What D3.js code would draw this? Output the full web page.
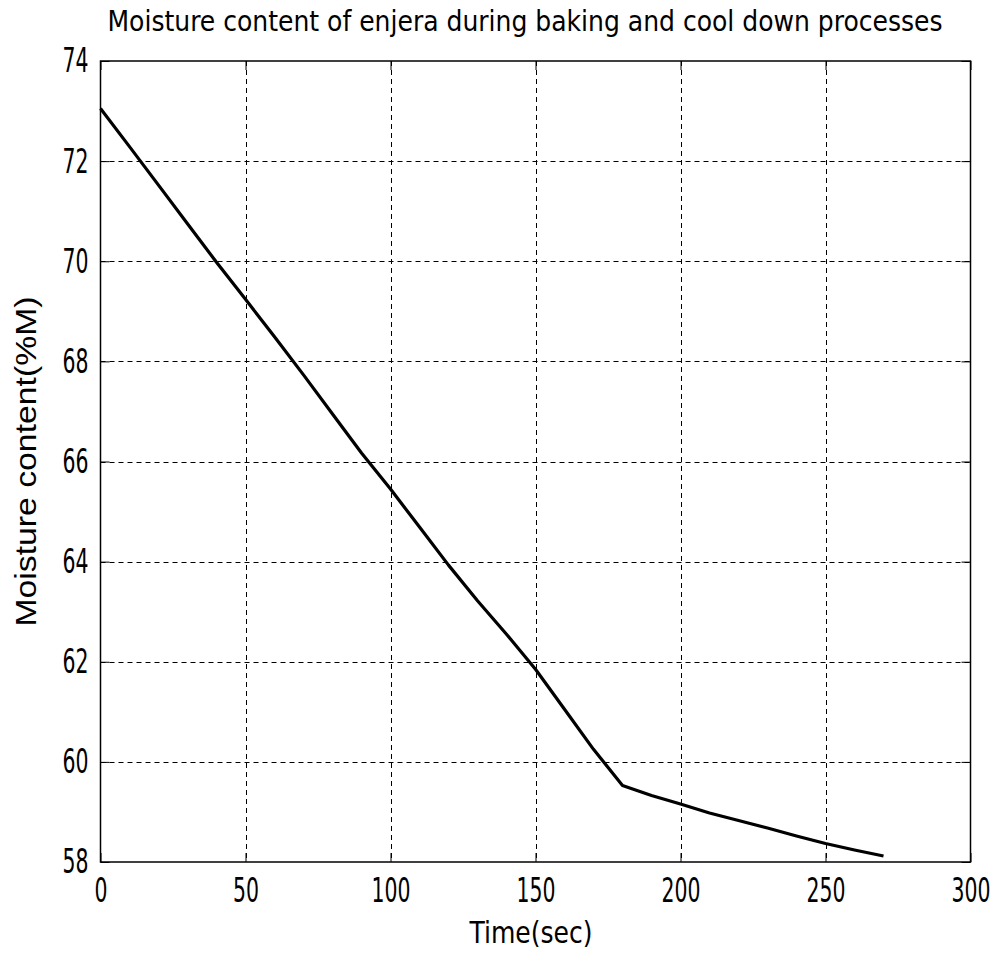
<!DOCTYPE html>
<html>
<head>
<meta charset="utf-8">
<script src="https://cdn.jsdelivr.net/npm/d3@7"></script>
<style>
  body { margin: 0; background: #fff; }
  svg { display: block; }
  .tick text { font-family: "DejaVu Sans Condensed", sans-serif; font-size: 34px; fill: #000; }
</style>
</head>
<body>
<svg id="chart" width="997" height="955"></svg>
<script>
// time (sec) and moisture content (%M)
const timeSec = [0, 10, 20, 30, 40, 50, 60, 70, 80, 90, 100, 110, 120, 130, 140, 150, 160, 170, 180,
    190, 200, 210, 220, 230, 240, 250, 260, 270];
const moisture = [73.05, 72.29, 71.52, 70.75, 69.98, 69.24, 68.49, 67.73, 66.95, 66.17, 65.45, 64.69,
    63.93, 63.22, 62.55, 61.85, 61.05, 60.25, 59.53,
    59.33, 59.16, 58.98, 58.83, 58.68, 58.52, 58.37, 58.24, 58.12];
const xTicks = [0, 50, 100, 150, 200, 250, 300];
const yTicks = [58, 60, 62, 64, 66, 68, 70, 72, 74];

const svg = d3.select('#chart');
const plotLeft = 100.5, plotRight = 970.5, plotTop = 61, plotBottom = 862;

const xScale = d3.scaleLinear().domain([0, 300]).range([plotLeft, plotRight]);
const yScale = d3.scaleLinear().domain([58, 74]).range([plotBottom, plotTop]);

// dashed grid
svg.append('g')
    .selectAll('line')
    .data(xTicks.slice(1, -1))
    .enter().append('line')
    .attr('x1', d => Math.round(xScale(d)) + 0.5).attr('x2', d => Math.round(xScale(d)) + 0.5)
    .attr('y1', plotTop).attr('y2', plotBottom)
    .attr('stroke', '#000').attr('stroke-dasharray', '5,4');

svg.append('g')
    .selectAll('line')
    .data(yTicks.slice(1, -1))
    .enter().append('line')
    .attr('y1', d => Math.round(yScale(d)) + 0.5).attr('y2', d => Math.round(yScale(d)) + 0.5)
    .attr('x1', plotLeft).attr('x2', plotRight)
    .attr('stroke', '#000').attr('stroke-dasharray', '5,4');

// narrow digits like the original
const squeeze = g => g.selectAll('.tick text')
    .attr('textLength', d => String(d).length * 13)
    .attr('lengthAdjust', 'spacingAndGlyphs');

// axes with inward ticks
const xAxis = d3.axisBottom(xScale).tickValues(xTicks).tickSizeInner(-9).tickSizeOuter(0).tickPadding(16);
const yAxis = d3.axisLeft(yScale).tickValues(yTicks).tickSizeInner(-9).tickSizeOuter(0).tickPadding(12);

svg.append('g').attr('transform', `translate(0,${plotBottom})`).call(xAxis)
    .call(g => g.select('.domain').remove()).call(squeeze);
svg.append('g').attr('transform', `translate(${plotLeft},0)`).call(yAxis)
    .call(g => g.select('.domain').remove()).call(squeeze);
svg.append('g').attr('transform', `translate(0,${plotTop})`)
    .call(d3.axisTop(xScale).tickValues(xTicks).tickSizeInner(-9).tickSizeOuter(0).tickFormat(''))
    .call(g => g.select('.domain').remove());
svg.append('g').attr('transform', `translate(${plotRight},0)`)
    .call(d3.axisRight(yScale).tickValues(yTicks).tickSizeInner(-9).tickSizeOuter(0).tickFormat(''))
    .call(g => g.select('.domain').remove());

svg.selectAll('.tick line').attr('stroke', '#000');

// box
svg.append('rect')
    .attr('x', plotLeft).attr('y', plotTop)
    .attr('width', plotRight - plotLeft).attr('height', plotBottom - plotTop)
    .attr('fill', 'none').attr('stroke', '#000').attr('stroke-width', 1.5);

// data line
const line = d3.line()
    .x((d, i) => xScale(timeSec[i]))
    .y(d => yScale(d));

svg.append('path')
    .datum(moisture)
    .attr('d', line)
    .attr('fill', 'none')
    .attr('stroke', '#000')
    .attr('stroke-width', 3.2)
    .attr('stroke-linejoin', 'round');

// titles
svg.append('text')
    .attr('x', 525).attr('y', 31)
    .attr('text-anchor', 'middle')
    .attr('textLength', 835).attr('lengthAdjust', 'spacingAndGlyphs')
    .style('font-family', '"DejaVu Sans Condensed", sans-serif')
    .style('font-size', '28px')
    .text('Moisture content of enjera during baking and cool down processes');

svg.append('text')
    .attr('x', 531).attr('y', 943)
    .attr('text-anchor', 'middle')
    .attr('textLength', 123).attr('lengthAdjust', 'spacingAndGlyphs')
    .style('font-family', '"DejaVu Sans Condensed", sans-serif')
    .style('font-size', '31px')
    .text('Time(sec)');

svg.append('text')
    .attr('transform', `translate(36,${(plotTop + plotBottom) / 2}) rotate(-90)`)
    .attr('text-anchor', 'middle')
    .attr('textLength', 330).attr('lengthAdjust', 'spacingAndGlyphs')
    .style('font-family', '"Liberation Sans", Arial, sans-serif')
    .style('font-size', '29px')
    .text('Moisture content(%M)');
</script>
</body>
</html>
